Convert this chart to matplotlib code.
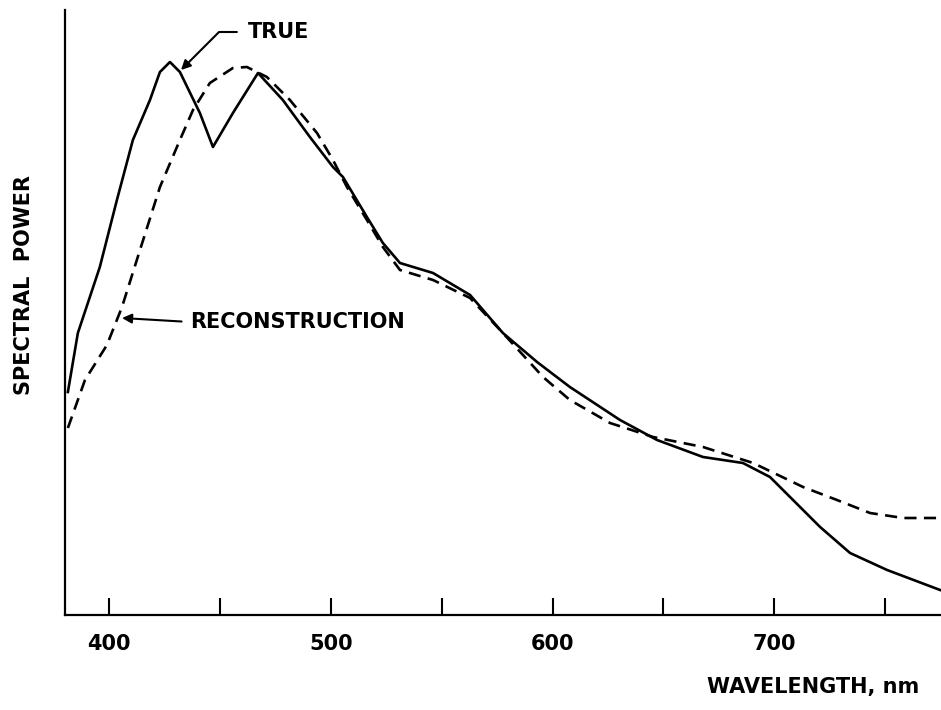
import numpy as np
import matplotlib
matplotlib.use("Agg")
import matplotlib.pyplot as plt

# spectral power curves (arbitrary units)

true_nm = [381.5, 386.0, 395.9, 403.6, 410.8, 418.5, 423.0, 427.5, 432.0, 441.0,
           446.9, 455.9, 467.2, 478.4, 490.6, 501.0, 505.5, 516.3, 523.5, 531.2,
           546.1, 562.8, 577.6, 593.0, 607.8, 630.4, 647.1, 667.8, 685.8, 698.0,
           708.4, 720.6, 734.1, 750.8, 774.7]
true_pw = [223, 282, 348, 415, 475, 515, 543, 553, 543, 502,
           468, 502, 542, 515, 478, 448, 438, 398, 372, 352,
           342, 320, 282, 253, 228, 195, 175, 158, 152, 138,
           115, 88, 62, 45, 25]

recon_nm = [381.5, 389.2, 399.1, 405.9, 414.0, 423.0, 432.0, 437.9, 445.5, 455.9,
            462.2, 471.2, 481.6, 493.8, 501.0, 507.3, 516.3, 523.5, 531.2, 546.1,
            562.8, 577.6, 595.7, 607.8, 625.9, 645.3, 667.8, 690.4, 712.9, 728.2,
            743.1, 758.0, 774.7]
recon_pw = [187, 235, 270, 308, 365, 428, 475, 505, 532, 547,
            548, 538, 515, 482, 455, 428, 395, 368, 345, 335,
            317, 282, 238, 215, 192, 178, 168, 152, 128, 115,
            102, 97, 97]

major_ticks = [400, 500, 600, 700]
minor_ticks = [450, 550, 650, 750]

fs = 15
fw = "bold"

fig = plt.figure(figsize=(9.41, 7.10), dpi=100)
ax = fig.add_axes([65 / 941, 95 / 710, 876 / 941, 605 / 710])

ax.plot(true_nm, true_pw, color="black", lw=1.9, solid_joinstyle="round")
ax.plot(recon_nm, recon_pw, color="black", lw=1.9, linestyle=(0, (4.6, 2.8)))

ax.set_xlim(380.2, 775.1)
ax.set_ylim(0, 605)

for s in ["top", "right"]:
    ax.spines[s].set_visible(False)
for s in ["left", "bottom"]:
    ax.spines[s].set_linewidth(1.6)

ax.set_yticks([])
ax.set_xticks(major_ticks)
ax.set_xticks(minor_ticks, minor=True)
ax.tick_params(axis="x", which="both", direction="in", length=12, width=1.5,
               labelsize=fs, pad=14)
for lab in ax.get_xticklabels():
    lab.set_fontweight(fw)

# annotations
ax.annotate("TRUE", xy=(432.5, 545), xytext=(462.7, 583), fontsize=fs,
            fontweight=fw, ha="left", va="center",
            arrowprops=dict(arrowstyle="-|>", color="black", lw=1.5,
                            mutation_scale=14, relpos=(0, 0.5), shrinkA=6, shrinkB=0,
                            connectionstyle="angle,angleA=0,angleB=45,rad=0"))
ax.annotate("RECONSTRUCTION", xy=(405.9, 297), xytext=(436.5, 293), fontsize=fs,
            fontweight=fw, ha="left", va="center",
            arrowprops=dict(arrowstyle="-|>", color="black", lw=1.5,
                            mutation_scale=14, relpos=(0, 0.5), shrinkA=4, shrinkB=0))

fig.text(24 / 941, 1 - 285 / 710, "SPECTRAL  POWER", rotation=90, fontsize=fs,
         fontweight=fw, ha="center", va="center")
fig.text(813 / 941, 1 - 687 / 710, "WAVELENGTH, nm", fontsize=fs,
         fontweight=fw, ha="center", va="center")

fig.savefig("out.png", dpi=100)
